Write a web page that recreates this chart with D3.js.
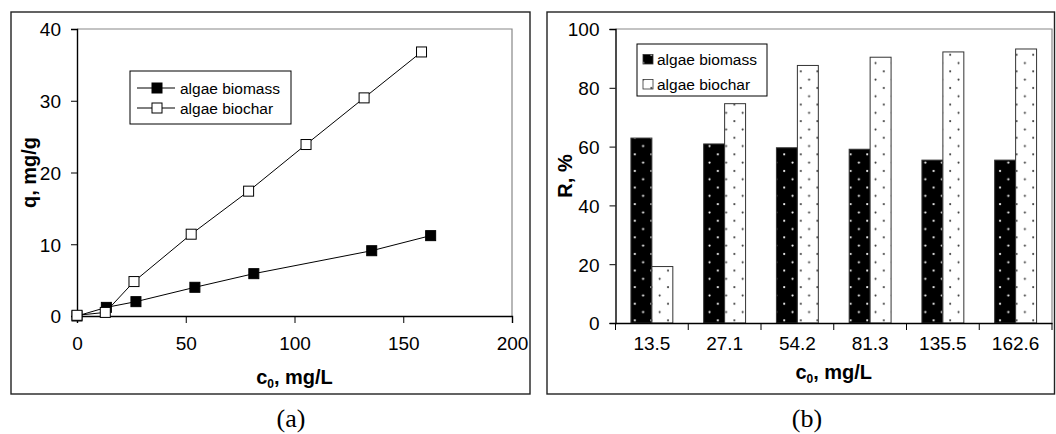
<!DOCTYPE html>
<html><head><meta charset="utf-8">
<script src="https://cdn.jsdelivr.net/npm/d3@7"></script>
<style>body{margin:0;background:#fff}svg{display:block}text{font-family:"Liberation Sans",Arial,sans-serif}</style>
</head><body><div id="c"></div>
<script>
// ---- Data panel (a) ----
const biomassX = [0, 13.5, 27.1, 54.2, 81.3, 135.5, 162.6];
const biomassQ = [0, 1.2, 2.0, 4.0, 5.9, 9.1, 11.2];
const biocharX = [0, 13, 26.2, 52.5, 78.9, 105.3, 132, 158.4];
const biocharQ = [0.1, 0.5, 4.8, 11.4, 17.4, 23.9, 30.4, 36.8];
const xTicksA = [0, 50, 100, 150, 200];
const yTicksA = [0, 10, 20, 30, 40];
// ---- Data panel (b) ----
const categoriesB = ["13.5", "27.1", "54.2", "81.3", "135.5", "162.6"];
const biomassR = [62.9, 60.9, 59.6, 59.1, 55.4, 55.4];
const biocharR = [19.2, 74.6, 87.6, 90.4, 92.2, 93.2];
const yTicksB = [0, 20, 40, 60, 80, 100];
const seriesNames = ["algae biomass", "algae biochar"];

const W = 1056, H = 434;
const svg = d3.select("#c").append("svg").attr("width", W).attr("height", H);
svg.append("rect").attr("width", W).attr("height", H).attr("fill", "#fff");

const defs = svg.append("defs");
const pBlack = defs.append("pattern").attr("id", "pBlack").attr("patternUnits", "userSpaceOnUse")
  .attr("width", 16.6).attr("height", 16.6);
pBlack.append("rect").attr("width", 16.6).attr("height", 16.6).attr("fill", "#000");
[[4, 5], [12.3, 13.3]].forEach(([x, y]) => pBlack.append("circle").attr("cx", x).attr("cy", y).attr("r", 1.1).attr("fill", "#fff"));
const pWhite = defs.append("pattern").attr("id", "pWhite").attr("patternUnits", "userSpaceOnUse")
  .attr("width", 16.6).attr("height", 16.6);
pWhite.append("rect").attr("width", 16.6).attr("height", 16.6).attr("fill", "#fff");
[[4, 5], [12.3, 13.3]].forEach(([x, y]) => pWhite.append("circle").attr("cx", x).attr("cy", y).attr("r", 1.0).attr("fill", "#333"));

const FS = 19, LFS = 15.5, TFS = 20;

// frames
svg.append("rect").attr("x", 11).attr("y", 12).attr("width", 519).attr("height", 382)
  .attr("fill", "none").attr("stroke", "#222").attr("stroke-width", 1.4);
svg.append("rect").attr("x", 547).attr("y", 12).attr("width", 507.5).attr("height", 382)
  .attr("fill", "none").attr("stroke", "#222").attr("stroke-width", 1.4);

function c0Title(g, x, y) {
  const t = g.append("text").attr("x", x).attr("y", y).attr("text-anchor", "middle")
    .attr("font-size", TFS).attr("font-weight", "bold");
  t.append("tspan").text("c");
  t.append("tspan").attr("font-size", 12).attr("dy", 4).text("0");
  t.append("tspan").attr("dy", -4).text(", mg/L");
}

// ================= Panel (a) =================
const xA = d3.scaleLinear().domain([0, 200]).range([77, 512]);
const yA = d3.scaleLinear().domain([0, 40]).range([316, 29]);
const gA = svg.append("g");
gA.append("path").attr("d", `M${xA(0)},${yA(40)}H${xA(200)}V${yA(0)}`).attr("fill", "none").attr("stroke", "#888").attr("stroke-width", 1.2);
const axXA = gA.append("g").attr("transform", `translate(0,${yA(0)})`)
  .call(d3.axisBottom(xA).tickValues(xTicksA).tickSize(7).tickPadding(14).tickFormat(d3.format("d")));
const axYA = gA.append("g").attr("transform", `translate(${xA(0)},0)`)
  .call(d3.axisLeft(yA).tickValues(yTicksA).tickSize(6).tickPadding(10).tickFormat(d3.format("d")));
[axXA, axYA].forEach(a => {
  a.select(".domain").attr("stroke", "#000").attr("stroke-width", 1.4);
  a.selectAll(".tick line").attr("stroke", "#000").attr("stroke-width", 1);
  a.selectAll(".tick text").attr("font-size", FS).attr("fill", "#000").attr("font-family", '"Liberation Sans",Arial,sans-serif');
});
axYA.selectAll(".tick text").attr("dy", "0.36em");

const line = d3.line().x(d => xA(d[0])).y(d => yA(d[1]));
const bmPts = biomassX.map((x, i) => [x, biomassQ[i]]);
const bcPts = biocharX.map((x, i) => [x, biocharQ[i]]);
function drawSeries(pts, fill) {
  gA.append("path").attr("d", line(pts)).attr("fill", "none").attr("stroke", "#000").attr("stroke-width", 1);
  gA.selectAll(null).data(pts).enter().append("rect")
    .attr("x", d => xA(d[0]) - 5).attr("y", d => yA(d[1]) - 5).attr("width", 10).attr("height", 10)
    .attr("fill", fill).attr("stroke", "#000").attr("stroke-width", 1);
}
drawSeries(bmPts, "#000");
drawSeries(bcPts, "#fff");

// legend a
const lgA = gA.append("g");
lgA.append("rect").attr("x", 130).attr("y", 71).attr("width", 161).attr("height", 53)
  .attr("fill", "#fff").attr("stroke", "#000").attr("stroke-width", 1);
[["#000", 88], ["#fff", 108]].forEach(([f, y], i) => {
  lgA.append("line").attr("x1", 137).attr("x2", 175).attr("y1", y).attr("y2", y).attr("stroke", "#000");
  lgA.append("rect").attr("x", 152).attr("y", y - 5).attr("width", 10).attr("height", 10).attr("fill", f).attr("stroke", "#000");
  lgA.append("text").attr("x", 180).attr("y", y + 5.5).attr("font-size", LFS).text(seriesNames[i]);
});

// titles a
gA.append("text").attr("transform", `translate(36,${(yA(0) + yA(40)) / 2}) rotate(-90)`)
  .attr("text-anchor", "middle").attr("font-size", TFS).attr("font-weight", "bold").text("q, mg/g");
c0Title(gA, (xA(0) + xA(200)) / 2, 384);
svg.append("text").attr("x", 291).attr("y", 427).attr("text-anchor", "middle")
  .attr("font-size", 26).attr("style", 'font-family:"Liberation Serif",serif').text("(a)");

// ================= Panel (b) =================
const xB = d3.scaleBand().domain(categoriesB).range([615.5, 1052]).padding(0);
const yB = d3.scaleLinear().domain([0, 100]).range([323, 29]);
const gB = svg.append("g");
gB.append("path").attr("d", `M${xB.range()[0]},${yB(100)}H${xB.range()[1]}V${yB(0)}`).attr("fill", "none").attr("stroke", "#888").attr("stroke-width", 1.2);
const bw = xB.bandwidth() * 0.288;
gB.selectAll(null).data(categoriesB).enter().append("rect")
  .attr("x", d => xB(d) + xB.bandwidth() / 2 - bw).attr("y", (d, i) => yB(biomassR[i]))
  .attr("width", bw).attr("height", (d, i) => yB(0) - yB(biomassR[i]))
  .attr("fill", "url(#pBlack)").attr("stroke", "#333").attr("stroke-width", 1);
gB.selectAll(null).data(categoriesB).enter().append("rect")
  .attr("x", d => xB(d) + xB.bandwidth() / 2).attr("y", (d, i) => yB(biocharR[i]))
  .attr("width", bw).attr("height", (d, i) => yB(0) - yB(biocharR[i]))
  .attr("fill", "url(#pWhite)").attr("stroke", "#333").attr("stroke-width", 1);

const axXB = gB.append("g").attr("transform", `translate(0,${yB(0)})`)
  .call(d3.axisBottom(xB).tickSize(0).tickPadding(14));
const bounds = categoriesB.map(d => xB(d)).concat([xB.range()[1]]);
axXB.selectAll(null).data(bounds).enter().append("line")
  .attr("x1", d => d).attr("x2", d => d).attr("y1", 0).attr("y2", 7).attr("stroke", "#000");
const axYB = gB.append("g").attr("transform", `translate(${xB.range()[0]},0)`)
  .call(d3.axisLeft(yB).tickValues(yTicksB).tickSize(6).tickPadding(10));
[axXB, axYB].forEach(a => {
  a.select(".domain").attr("stroke", "#000").attr("stroke-width", 1.4);
  a.selectAll(".tick line").attr("stroke", "#000").attr("stroke-width", 1);
  a.selectAll(".tick text").attr("font-size", FS).attr("fill", "#000").attr("font-family", '"Liberation Sans",Arial,sans-serif');
});
axYB.selectAll(".tick text").attr("dy", "0.36em");

// legend b
const lgB = gB.append("g");
lgB.append("rect").attr("x", 637).attr("y", 44).attr("width", 130).attr("height", 52)
  .attr("fill", "#fff").attr("stroke", "#000").attr("stroke-width", 1);
[["url(#pBlack)", 59], ["url(#pWhite)", 84]].forEach(([f, y], i) => {
  lgB.append("rect").attr("x", 643).attr("y", y - 4.5).attr("width", 10).attr("height", 9.5).attr("fill", f).attr("stroke", "#333").attr("stroke-width", 0.8);
  lgB.append("text").attr("x", 657).attr("y", y + 6).attr("font-size", LFS).text(seriesNames[i]);
});

gB.append("text").attr("transform", `translate(572,${(yB(0) + yB(100)) / 2}) rotate(-90)`)
  .attr("text-anchor", "middle").attr("font-size", TFS).attr("font-weight", "bold").text("R, %");
c0Title(gB, (xB.range()[0] + xB.range()[1]) / 2, 379);
svg.append("text").attr("x", 807).attr("y", 427).attr("text-anchor", "middle")
  .attr("font-size", 26).attr("style", 'font-family:"Liberation Serif",serif').text("(b)");
</script></body></html>
